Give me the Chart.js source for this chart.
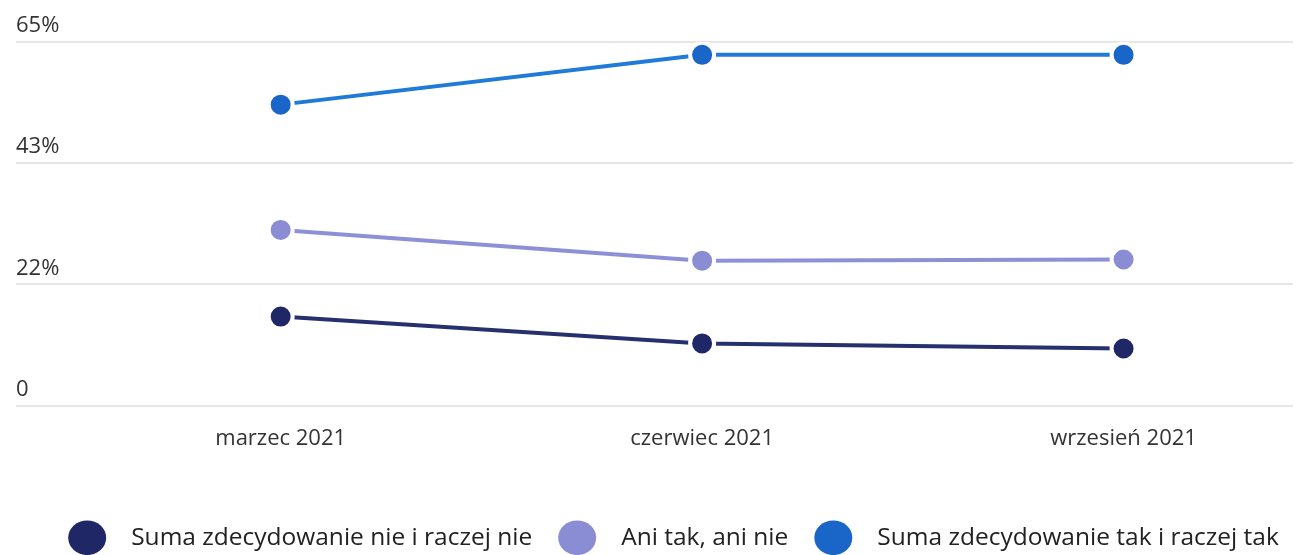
<!DOCTYPE html>
<html>
<head>
<meta charset="utf-8">
<script src="https://cdn.jsdelivr.net/npm/chart.js@4"></script>
<style>
  html, body { margin: 0; padding: 0; background: #fff; }
  #wrap { width: 1309px; height: 555px; }
</style>
</head>
<body>
<div id="wrap"><canvas id="chart" width="1309" height="555"></canvas></div>
<script>
var labels = ['marzec 2021', 'czerwiec 2021', 'wrzesień 2021'];
var sumaNie = [15.9, 11.1, 10.2];
var aniTakAniNie = [31.4, 25.9, 26.1];
var sumaTak = [53.8, 62.7, 62.7];
var yTicks = [0, 65 / 3, 130 / 3, 65];

function toPoints(arr) {
    return arr.map(function (v, i) { return {x: i, y: v}; });
}

var ctx = document.getElementById('chart').getContext('2d');
Chart.defaults.font.family = '"Open Sans", sans-serif';
Chart.defaults.color = '#333';

function series(label, values, line, point) {
    return {
        label: label,
        data: toPoints(values),
        borderColor: line,
        backgroundColor: point,
        pointBackgroundColor: point,
        pointBorderColor: '#fff',
        borderWidth: 4,
        pointRadius: 12,
        pointBorderWidth: 4
    };
}

// nudge the legend row a little to the right, like the original
var legendShift = {
    id: 'legendShift',
    afterLayout: function (c) {
        c.legend.left += 20;
        c.legend.right += 20;
    }
};

var chart = new Chart(ctx, {
    type: 'line',
    data: {
        datasets: [
            series('Suma zdecydowanie nie i raczej nie', sumaNie, '#26306f', '#1f2766'),
            series('Ani tak, ani nie', aniTakAniNie, '#8d90d6', '#8a8dd4'),
            series('Suma zdecydowanie tak i raczej tak', sumaTak, '#1f7ad8', '#1a66c8')
        ]
    },
    options: {
        responsive: false,
        animation: false,
        layout: {padding: {top: 42, left: 12, right: 14, bottom: -5}},
        scales: {
            x: {
                type: 'linear',
                min: -0.628,
                max: 2.402,
                afterBuildTicks: function (scale) {
                    scale.ticks = labels.map(function (l, i) { return {value: i}; });
                },
                afterFit: function (scale) {
                    scale.height = 94;
                },
                grid: {display: false},
                border: {display: false},
                ticks: {
                    padding: 12,
                    font: {size: 22},
                    color: '#333',
                    callback: function (v) { return labels[v]; }
                }
            },
            y: {
                min: 0,
                max: 65,
                afterBuildTicks: function (scale) {
                    scale.ticks = yTicks.map(function (v) { return {value: v}; });
                },
                border: {display: false},
                grid: {color: '#e6e6e6', lineWidth: 2, drawTicks: false},
                ticks: {
                    mirror: true,
                    padding: 0,
                    labelOffset: -16,
                    font: {size: 22},
                    color: '#333',
                    callback: function (v) { return v === 0 ? '0' : Math.round(v) + '%'; }
                }
            }
        },
        plugins: {
            tooltip: {enabled: false},
            legend: {
                position: 'bottom',
                labels: {
                    usePointStyle: true,
                    pointStyle: 'circle',
                    pointStyleWidth: 38,
                    boxHeight: 24.5,
                    padding: 26,
                    font: {size: 24.5},
                    color: '#222',
                    generateLabels: function (c) {
                        var items = Chart.defaults.plugins.legend.labels.generateLabels(c);
                        items.forEach(function (it) {
                            it.text = '  ' + it.text;
                            it.lineWidth = 0;
                        });
                        return items;
                    }
                }
            }
        }
    },
    plugins: [legendShift]
});
</script>
</body>
</html>
